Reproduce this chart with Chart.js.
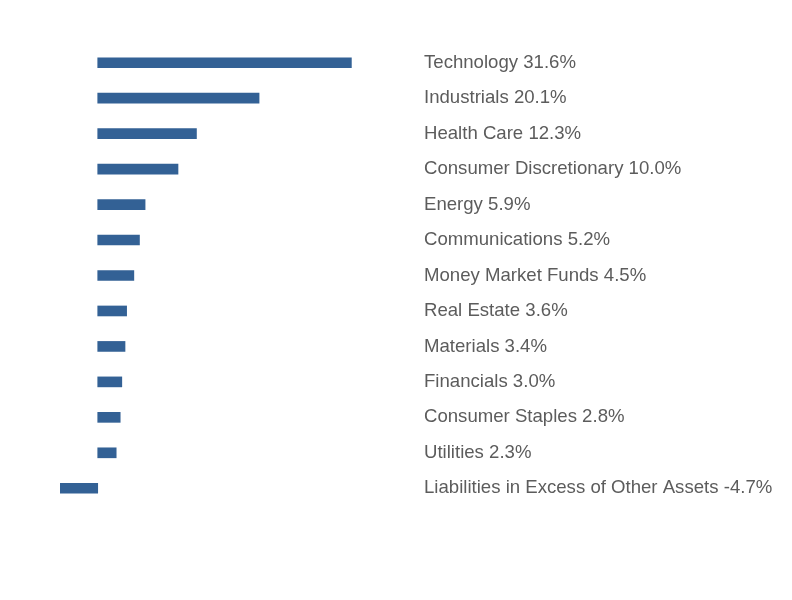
<!DOCTYPE html>
<html>
<head>
<meta charset="utf-8">
<script src="https://cdn.jsdelivr.net/npm/chart.js@4"></script>
<style>
  html, body { margin: 0; padding: 0; background: #fff; }
  #wrap { width: 792px; height: 600px; }
</style>
</head>
<body>
<div id="wrap"><canvas id="myChart" width="792" height="600"></canvas></div>
<script>
// Sector weights
const sectors = [
    'Technology', 'Industrials', 'Health Care', 'Consumer Discretionary',
    'Energy', 'Communications', 'Money Market Funds', 'Real Estate',
    'Materials', 'Financials', 'Consumer Staples', 'Utilities',
    'Liabilities in Excess of Other Assets'
];
const weights = [31.6, 20.1, 12.3, 10.0, 5.9, 5.2, 4.5, 3.6, 3.4, 3.0, 2.8, 2.3, -4.7];

// Labels shown on the right: name + value
const labels = sectors.map((s, i) => s + ' ' + weights[i].toFixed(1) + '%');

const ctx = document.getElementById('myChart').getContext('2d');
new Chart(ctx, {
    type: 'bar',
    data: {
        labels: labels,
        datasets: [{
            data: weights,
            backgroundColor: '#336195',
            borderWidth: 0,
            barThickness: 10
        }]
    },
    options: {
        indexAxis: 'y',
        responsive: false,
        animation: false,
        layout: { padding: { left: 60, top: 45, bottom: 94, right: 0 } },
        plugins: {
            legend: { display: false },
            tooltip: { enabled: false }
        },
        scales: {
            x: {
                display: false,
                min: -4.7,
                max: 39.4
            },
            y: {
                position: 'right',
                grid: { display: false, drawTicks: false },
                border: { display: false },
                ticks: {
                    padding: 10,
                    color: '#5c5c5c',
                    font: { family: '"Liberation Sans", Arial, sans-serif', size: 18.6 }
                },
                afterFit: function (axis) { axis.width = 378; }
            }
        }
    }
});
</script>
</body>
</html>
